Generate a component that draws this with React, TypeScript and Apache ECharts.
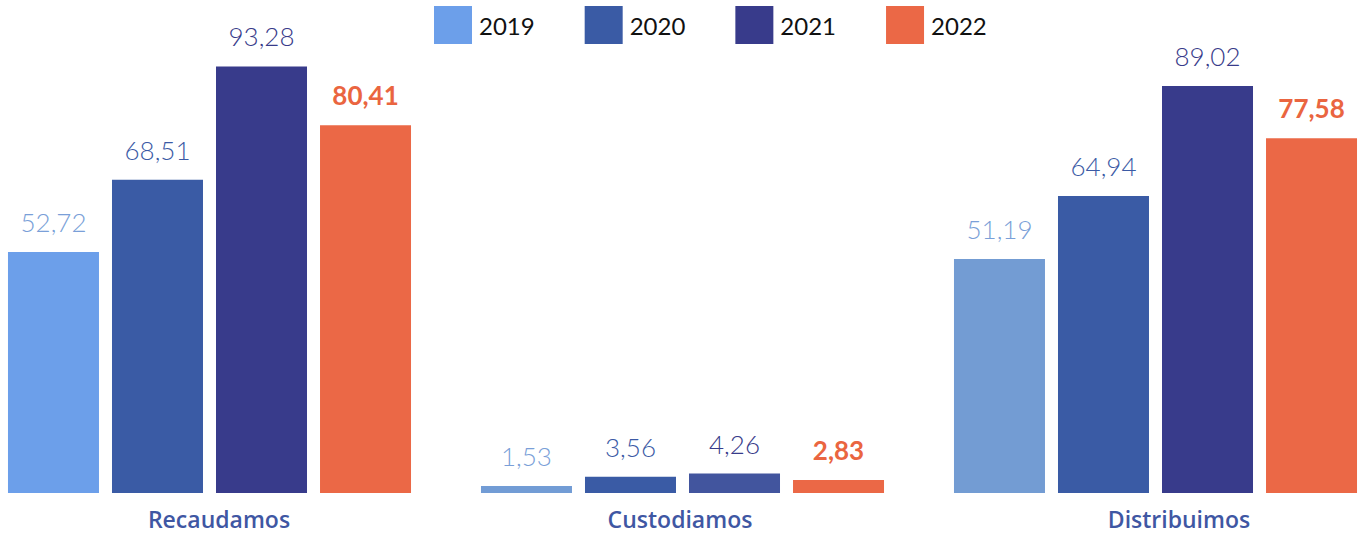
import React, { useEffect, useRef } from "react";
import * as echarts from "echarts";

const categories = ["Recaudamos", "Custodiamos", "Distribuimos"];
const years = ["2019", "2020", "2021", "2022"];
const v2019 = [52.72, 1.53, 51.19];
const v2020 = [68.51, 3.56, 64.94];
const v2021 = [93.28, 4.26, 89.02];
const v2022 = [80.41, 2.83, 77.58];

const seriesValues = [v2019, v2020, v2021, v2022];
const seriesColors = ["#6c9fea", "#3a5ba5", "#383b8b", "#eb6846"];
// per-category bar colour nuances seen in the reference
const barColorOverrides: (string | null)[][] = [
  [null, "#729cd5", "#739cd3"],
  [null, null, null],
  [null, "#42559e", null],
  [null, null, null],
];
const labelColors = ["#7a9fd8", "#3b5aa5", "#383b8a", "#ea6540"];
// horizontal nudge of each category label (px, + = right)
const categoryLabelShift = [9.5, -2.5, 23.5];

const fmt = (v: number) => v.toFixed(2).replace(".", ",");

const SHIFT = 27; // chart canvas extends past the left page edge

export default function App() {
  const ref = useRef<HTMLDivElement>(null);
  useEffect(() => {
    if (!ref.current) return;
    const chart = echarts.init(ref.current, null, { renderer: "svg" });
    chart.setOption({
      animation: false,
      legend: {
        top: 6,
        left: 434 + SHIFT,
        padding: 0,
        itemWidth: 38,
        itemHeight: 38,
        itemGap: 50,
        icon: "rect",
        textStyle: {
          fontFamily: "Lato",
          fontSize: 24,
          color: "#111",
          padding: [0, 0, 0, 2],
        },
        data: years,
      },
      grid: { left: 0, right: 0, top: 33, bottom: 42, containLabel: false },
      xAxis: {
        type: "category",
        data: categories.map((c, i) => {
          const s = categoryLabelShift[i];
          return {
            value: c,
            textStyle: {
              padding: s >= 0 ? [0, 0, 0, 2 * s] : [0, -2 * s, 0, 0],
            },
          };
        }),
        axisLine: { show: false },
        axisTick: { show: false },
        axisLabel: {
          margin: 14,
          fontFamily: "Open Sans",
          fontWeight: 600,
          fontSize: 23,
          color: "#3f57a3",
        },
      },
      yAxis: {
        type: "value",
        min: 0,
        max: 100.6,
        show: false,
        splitLine: { show: false },
      },
      series: years.map((y, i) => ({
        name: y,
        type: "bar",
        barWidth: 91,
        barGap: "14.3%",
        itemStyle: { color: seriesColors[i] },
        label: {
          show: true,
          position: "top",
          distance: 17,
          fontFamily: "Lato",
          fontSize: 26,
          fontWeight: i === 3 ? "bold" : 300,
          color: labelColors[i],
          formatter: (p: any) => fmt(p.value),
        },
        data: seriesValues[i].map((v, j) => {
          const c = barColorOverrides[i][j];
          return c ? { value: v, itemStyle: { color: c } } : v;
        }),
      })),
    });
    return () => chart.dispose();
  }, []);
  return (
    <div
      style={{
        position: "absolute",
        left: 0,
        top: 0,
        width: 1359,
        height: 535,
        overflow: "hidden",
      }}
    >
      <div
        ref={ref}
        style={{ position: "absolute", left: -SHIFT, top: 0, width: 1419, height: 535 }}
      />
    </div>
  );
}
